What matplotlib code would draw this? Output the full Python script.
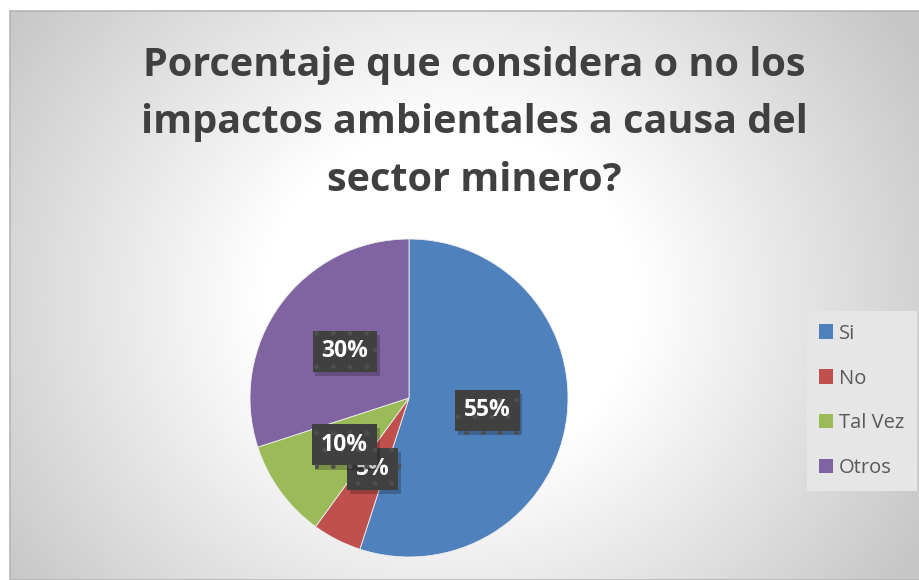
import numpy as np
import matplotlib
matplotlib.use("Agg")
import matplotlib.pyplot as plt
from matplotlib.patches import Patch, Rectangle
import matplotlib.patheffects as pe

title = "Porcentaje que considera o no los\nimpactos ambientales a causa del\nsector minero?"
categories = ["Si", "No", "Tal Vez", "Otros"]
values = [55, 5, 10, 30]
colors = ["#4f81bd", "#c0504d", "#9bbb59", "#8064a2"]

W, H = 920, 580
fig = plt.figure(figsize=(W / 100, H / 100), dpi=100)
fig.patch.set_facecolor("white")

# background chart area with radial gradient
x0, y0, x1, y1 = 10, 0, 920, 569  # pixels (y from bottom)
bg = fig.add_axes([x0 / W, y0 / H, (x1 - x0) / W, (y1 - y0) / H])
gx = np.arange(x0, x1)
gy = np.arange(y0, y1)
GX, GY = np.meshgrid(gx, gy)
cx, cy = 450, H - 300
d = np.sqrt(((GX - cx) / 1.05) ** 2 + ((GY - cy) / 0.95) ** 2)
g = 255 - 57 * np.clip((d - 180) / 340, 0, 1)
img = np.dstack([g, g, g]).astype(np.uint8)
bg.imshow(img, origin="lower", aspect="auto", extent=[0, 1, 0, 1])
bg.set_xlim(0, 1)
bg.set_ylim(0, 1)
bg.axis("off")
bg.add_patch(Rectangle((0, 0), 1, 1, transform=bg.transAxes, fill=False,
                       ec="#b5b5b5", lw=1.2, clip_on=False))

# title
fig.text(474 / W, 1 - 123 / H, title, ha="center", va="center",
         fontsize=28.5, fontweight="bold", color="#404040",
         family="Open Sans", linespacing=1.62)

# pie
pcx, pcy, r = 409, 398, 159
ax = fig.add_axes([(pcx - r) / W, (H - pcy - r) / H, 2 * r / W, 2 * r / H])
wedges, texts, autotexts = ax.pie(
    values, colors=colors, startangle=90, counterclock=False,
    autopct=lambda p: f"{p:.0f}%", pctdistance=0.5, radius=1,
    wedgeprops=dict(edgecolor="#f0f0f0", linewidth=0.6),
    textprops=dict(color="white", fontsize=16.5, fontweight="bold", family="Open Sans"),
)
ax.set_xlim(-1, 1)
ax.set_ylim(-1, 1)
ax.set_aspect("equal")
ax.axis("off")
for t in autotexts:
    t.set_bbox(dict(boxstyle="square,pad=0.38", fc="#404040", ec="#4f4f4f",
                    lw=0, hatch="."))
    t.get_bbox_patch().set_path_effects(
        [pe.SimplePatchShadow(offset=(2, -3), shadow_rgbFace="black", alpha=0.22),
         pe.Normal()])

# legend
handles = [Patch(facecolor=c, edgecolor="none") for c in colors]
leg = fig.legend(handles, categories, loc="center left",
                 bbox_to_anchor=(807 / W, 1 - 401 / H),
                 frameon=True, handlelength=0.7, handleheight=0.7,
                 handletextpad=0.3, labelspacing=1.24, borderpad=0.6,
                 borderaxespad=0,
                 prop=dict(family="Open Sans", size=14.5))
leg.get_frame().set_facecolor("#e6e6e6")
leg.get_frame().set_edgecolor("none")
leg.get_frame().set_alpha(1)
leg.get_frame().set_boxstyle("square,pad=0")
for t in leg.get_texts():
    t.set_color("#595959")

fig.savefig("out.png", dpi=100)
